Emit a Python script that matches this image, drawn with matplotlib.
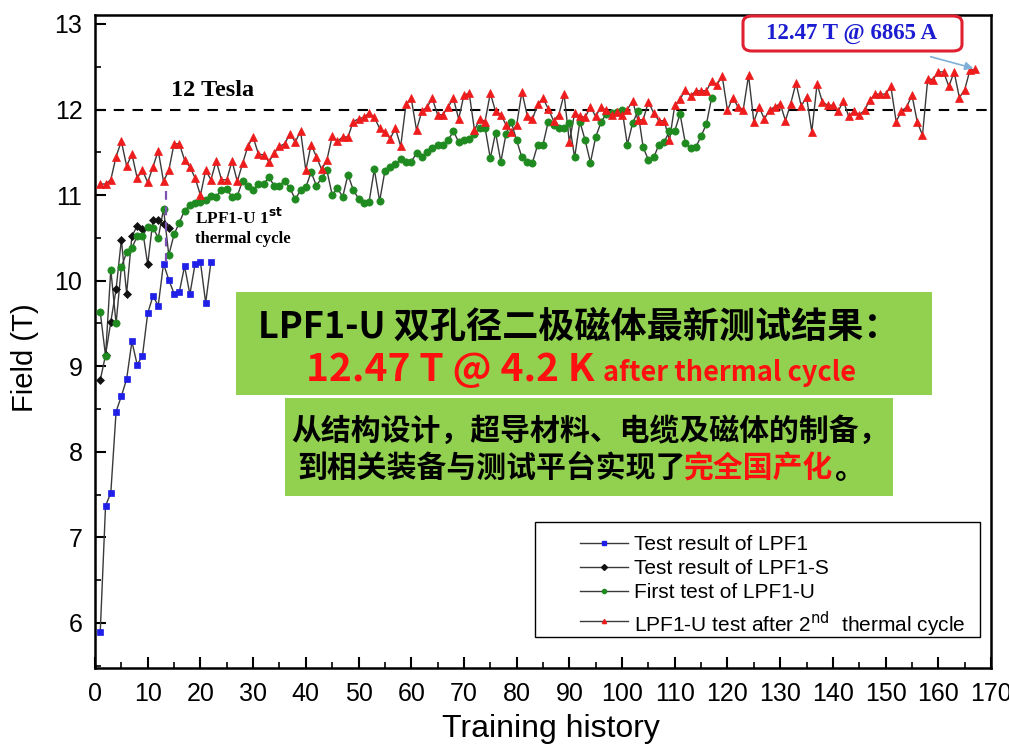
import matplotlib
matplotlib.use("Agg")
import matplotlib.pyplot as plt
from matplotlib.patches import Rectangle, FancyBboxPatch
from matplotlib.lines import Line2D

plt.rcParams['font.family'] = ['Liberation Sans', 'DejaVu Sans']

# ---- data ----
lpf1_field = [5.90, 7.37, 7.52, 8.47, 8.65, 8.85, 9.29, 9.02, 9.12, 9.62, 9.82,
              9.71, 10.20, 10.01, 9.85, 9.87, 10.17, 9.84, 10.20, 10.22, 9.74, 10.22]

lpf1s_field = [8.84, 9.13, 9.52, 9.90, 10.48, 9.85, 10.52, 10.64, 10.60, 10.19,
               10.71, 10.71, 10.66, 10.62]

lpf1u_first = [9.63, 9.12, 10.13, 9.50, 10.16, 10.33, 10.38, 10.52, 10.52, 10.63,
               10.62, 10.50, 10.84, 10.30, 10.54, 10.68, 10.82, 10.88, 10.91, 10.92,
               10.94, 10.99, 10.98, 11.06, 11.07, 10.98, 10.99, 11.17, 11.11, 11.06,
               11.13, 11.13, 11.21, 11.11, 11.11, 11.17, 11.08, 10.95, 11.06, 11.09,
               11.27, 11.11, 11.20, 11.29, 11.00, 11.08, 10.98, 11.24, 11.06, 10.96,
               10.91, 10.92, 11.30, 10.93, 11.28, 11.33, 11.36, 11.42, 11.39, 11.39,
               11.49, 11.45, 11.50, 11.55, 11.59, 11.59, 11.64, 11.75, 11.62, 11.64,
               11.66, 11.72, 11.78, 11.79, 11.43, 11.73, 11.39, 11.72, 11.85, 11.64,
               11.44, 11.39, 11.38, 11.59, 11.59, 11.86, 11.82, 11.79, 11.78, 11.84,
               11.44, 11.86, 11.64, 11.38, 11.68, 11.85, 11.95, 11.96, 11.97, 12.00,
               11.59, 11.84, 11.98, 11.56, 11.41, 11.44, 11.59, 11.62, 11.75, 11.75,
               11.95, 11.61, 11.55, 11.56, 11.69, 11.83, 12.14]

lpf1u_second = [11.13, 11.13, 11.18, 11.45, 11.63, 11.34, 11.48, 11.20, 11.29, 11.15,
                11.33, 11.52, 11.16, 11.29, 11.60, 11.60, 11.41, 11.33, 11.20, 11.00,
                11.29, 11.18, 11.40, 11.18, 11.18, 11.40, 11.16, 11.37, 11.57, 11.68,
                11.48, 11.47, 11.39, 11.49, 11.57, 11.60, 11.72, 11.62, 11.75, 11.29,
                11.59, 11.45, 11.30, 11.41, 11.69, 11.63, 11.68, 11.68, 11.86, 11.89,
                11.91, 11.96, 11.91, 11.78, 11.74, 11.66, 11.78, 11.57, 12.06, 12.13,
                11.76, 11.98, 12.03, 12.13, 11.94, 11.94, 12.03, 12.13, 11.89, 12.17,
                12.19, 11.76, 11.89, 11.86, 12.19, 11.98, 11.94, 11.82, 11.74, 11.82,
                12.21, 11.93, 11.89, 12.06, 12.13, 12.01, 11.87, 11.94, 12.18, 11.62,
                11.96, 11.92, 11.91, 12.03, 11.92, 12.03, 11.99, 11.94, 11.97, 11.94,
                12.00, 12.10, 11.88, 11.88, 12.09, 11.96, 11.87, 11.87, 11.64, 12.05,
                12.12, 12.23, 12.16, 12.22, 12.22, 12.22, 12.33, 12.29, 12.39, 11.99,
                12.14, 12.03, 12.00, 12.40, 11.86, 12.03, 11.89, 12.00, 12.03, 12.07,
                11.87, 12.07, 12.31, 12.04, 12.15, 11.74, 12.30, 12.09, 12.05, 12.05,
                11.98, 12.10, 11.92, 11.98, 11.94, 11.99, 12.11, 12.18, 12.18, 12.18,
                12.27, 11.86, 11.98, 12.03, 12.17, 11.86, 11.70, 12.36, 12.35, 12.44,
                12.44, 12.27, 12.44, 12.14, 12.23, 12.46, 12.47]

series_labels = ["Test result of LPF1", "Test result of LPF1-S", "First test of LPF1-U",
                 "LPF1-U test after 2$^{\\mathrm{nd}}$  thermal cycle"]
x_ticks = list(range(0, 171, 10))
y_ticks = [6, 7, 8, 9, 10, 11, 12, 13]
reference_field = 12.0
thermal_cycle_x = 13.5
thermal_cycle_span = (10.22, 11.05)

W, H = 1009, 746
fig = plt.figure(figsize=(W / 100, H / 100), dpi=100)
ax = fig.add_axes([95 / W, 1 - 668 / H, (991 - 95) / W, (668 - 15) / H])


def fx(px):
    return px / W


def fy(py):
    return 1 - py / H


line_c = '#3a3a3a'
styles = [
    dict(marker='s', color='#1f1fe8', ms=4.2),
    dict(marker='D', color='#111111', ms=3.6),
    dict(marker='o', color='#1f8a1f', ms=5.2),
    dict(marker='^', color='#ee1c1c', ms=6.0),
]
all_series = [lpf1_field, lpf1s_field, lpf1u_first, lpf1u_second]
for vals, st in zip(all_series, styles):
    xs = list(range(1, len(vals) + 1))
    ax.plot(xs, vals, '-', color=line_c, lw=1.0, zorder=2)
    ax.plot(xs, vals, linestyle='none', marker=st['marker'], ms=st['ms'],
            mfc=st['color'], mec=st['color'], mew=0.5, zorder=3)

ax.axhline(reference_field, color='black', lw=1.5, ls=(0, (5, 4)), zorder=1)
ax.plot([thermal_cycle_x, thermal_cycle_x], thermal_cycle_span, color='#7a50b0',
        lw=1.6, ls=(0, (4, 3)), zorder=4)

ax.set_xlim(0, 170)
ax.set_ylim(5.474, 13.105)
ax.set_xticks(x_ticks)
ax.set_xticks(range(5, 170, 10), minor=True)
ax.set_yticks(y_ticks)
ax.set_yticks([5.5 + 1.0 * i for i in range(8)], minor=True)
ax.tick_params(which='major', direction='in', length=8, width=1.5, labelsize=18)
ax.tick_params(axis='x', which='major', pad=10)
ax.tick_params(axis='y', which='major', pad=9)
ax.tick_params(which='minor', direction='in', length=4, width=1.2)
narrow = ['Liberation Sans Narrow', 'Liberation Sans', 'DejaVu Sans']
for lab in ax.get_xticklabels():
    lab.set_family(narrow)
for s in ax.spines.values():
    s.set_linewidth(1.8)

ax.set_xlabel("Training history", fontsize=23, family=narrow)
ax.xaxis.set_label_coords((551 - 95) / 896, (668 - 729) / 653)
ax.xaxis.label.set_verticalalignment('center')
ax.set_ylabel("Field (T)", fontsize=21)
ax.yaxis.set_label_coords((25 - 95) / 896, (668 - 358) / 653)
ax.yaxis.label.set_verticalalignment('center')
ax.yaxis.label.set_horizontalalignment('center')

# labels inside the plot
fig.text(fx(213), fy(90), "12 Tesla", family='Liberation Serif', weight='bold',
         fontsize=17.5, ha='center', va='center')
fig.text(fx(195), fy(218), "LPF1-U 1$^{\\mathbf{st}}$", family='Liberation Serif',
         weight='bold', fontsize=12.5, ha='left', va='center')
fig.text(fx(195), fy(239), "thermal cycle", family='Liberation Serif',
         weight='bold', fontsize=12, ha='left', va='center')

# peak annotation box with arrow
peak_box = FancyBboxPatch((fx(743), fy(51)), fx(962 - 743), fy(16) - fy(51),
                          boxstyle="round,pad=0,rounding_size=0.009",
                          transform=fig.transFigure, facecolor='white',
                          edgecolor='#e02030', lw=2.2, zorder=10)
fig.patches.append(peak_box)
fig.text(fx(852), fy(34), "12.47 T @ 6865 A", family='Liberation Serif',
         weight='bold', fontsize=16.5, color='#1c1cd0', ha='center', va='center',
         zorder=11)
ax.annotate("", xy=(fx(976), fy(69)), xytext=(fx(928), fy(56)),
            xycoords='figure fraction', textcoords='figure fraction',
            arrowprops=dict(arrowstyle='-|>', color='#7fb0d8', lw=1.2,
                            mutation_scale=12))

# green highlight boxes
box_c = '#92d050'
fig.patches.append(Rectangle((fx(236), fy(395)), fx(932 - 236), fy(292) - fy(395),
                             transform=fig.transFigure, facecolor=box_c,
                             edgecolor='none', zorder=8))
fig.patches.append(Rectangle((fx(285), fy(496)), fx(893 - 285), fy(398) - fy(496),
                             transform=fig.transFigure, facecolor=box_c,
                             edgecolor='none', zorder=8))

cjk = ['Noto Sans CJK SC', 'DejaVu Sans']
fig.text(fx(258), fy(327), "LPF1-U 双孔径二极磁体最新测试结果：", family=cjk,
         weight='bold', fontsize=26, ha='left', va='center', zorder=9)
fig.text(fx(306), fy(370), "12.47 T @ 4.2 K", family=cjk, weight='bold',
         fontsize=28, color='#ff1010', ha='left', va='center', zorder=9)
fig.text(fx(603), fy(373), "after thermal cycle", family=cjk, weight='bold',
         fontsize=19.5, color='#ff1010', ha='left', va='center', zorder=9)
fig.text(fx(291), fy(431), "从结构设计，超导材料、电缆及磁体的制备，", family=cjk,
         weight='bold', fontsize=21.5, ha='left', va='center', zorder=9)
fig.text(fx(297), fy(469), "到相关装备与测试平台实现了", family=cjk, weight='bold',
         fontsize=21.5, ha='left', va='center', zorder=9)
fig.text(fx(683), fy(469), "完全国产化", family=cjk, weight='bold', fontsize=21.5,
         color='#ff1010', ha='left', va='center', zorder=9)
fig.text(fx(834), fy(469), "。", family=cjk, weight='bold', fontsize=21.5,
         ha='left', va='center', zorder=9)

# legend, laid out row by row inside a plain black frame
fig.patches.append(Rectangle((fx(535), fy(637)), fx(980 - 535), fy(522) - fy(637),
                             transform=fig.transFigure, facecolor='white',
                             edgecolor='black', lw=1.0, zorder=12))
row_y = [543, 567, 591, 621]
for label, st, yy in zip(series_labels, styles, row_y):
    fig.add_artist(Line2D([fx(580), fx(628)], [fy(yy), fy(yy)], color=line_c,
                          lw=1.0, transform=fig.transFigure, zorder=13))
    fig.add_artist(Line2D([fx(604)], [fy(yy)], linestyle='none', marker=st['marker'],
                          ms=3.0, mfc=st['color'], mec=st['color'],
                          transform=fig.transFigure, zorder=14))
    fig.text(fx(634), fy(yy), label, fontsize=15, ha='left', va='center_baseline',
             zorder=14)

fig.savefig("out.png", dpi=100)
